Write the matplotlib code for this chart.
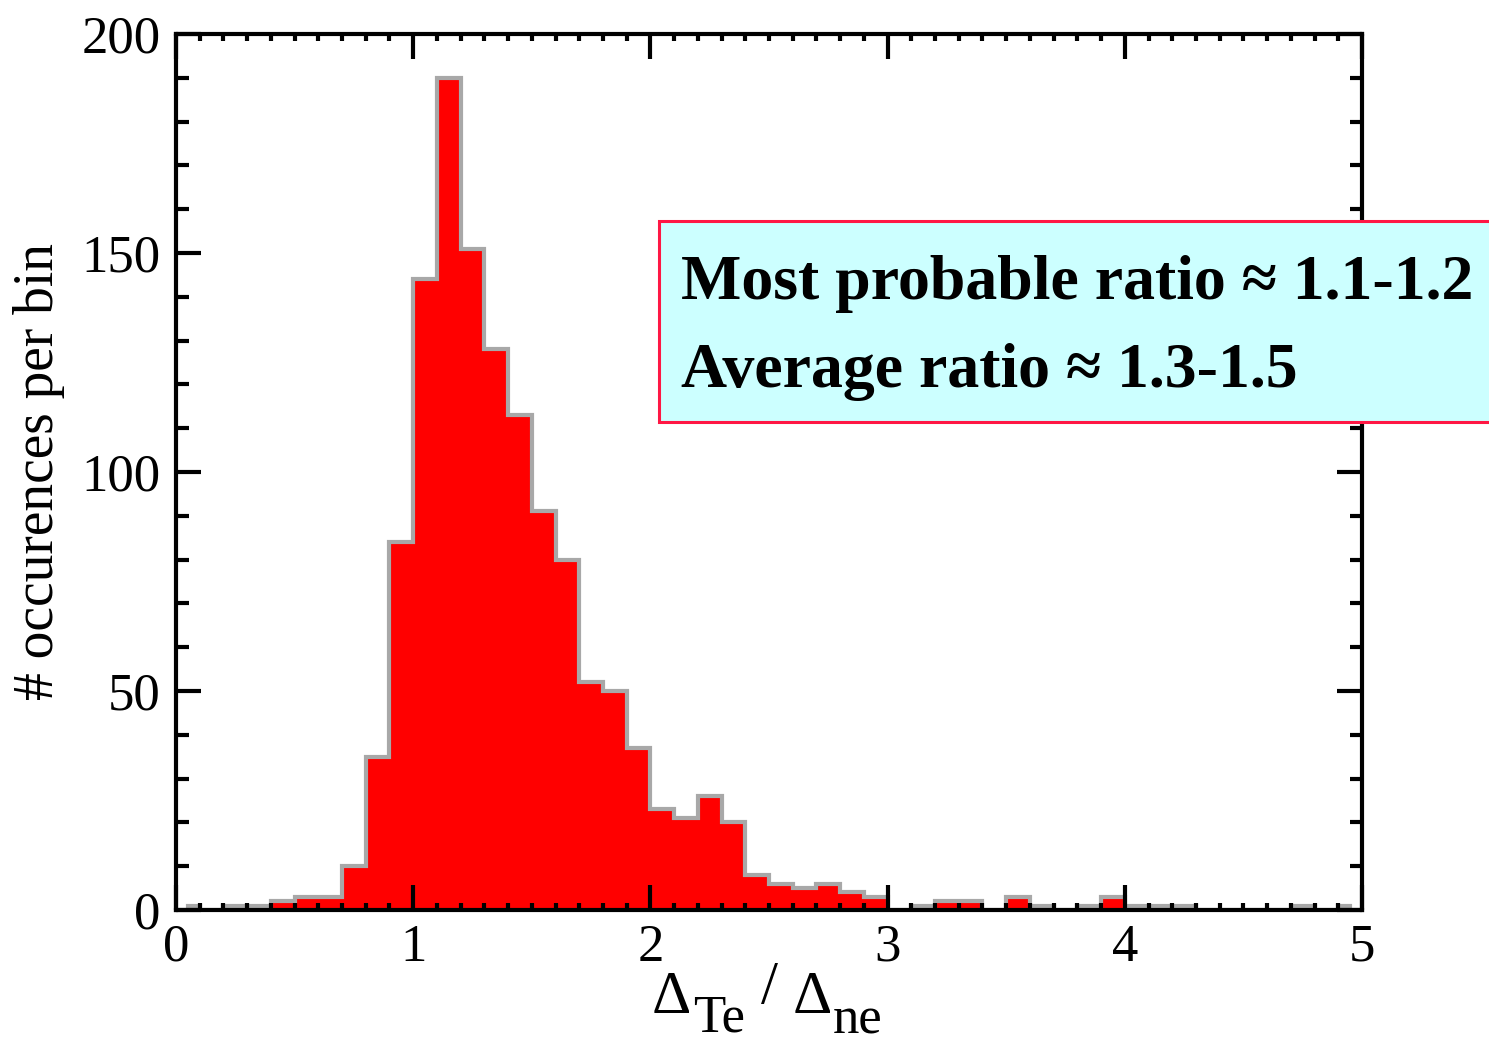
import numpy as np
import matplotlib
matplotlib.use("Agg")
import matplotlib.pyplot as plt
from matplotlib.patches import Rectangle
from matplotlib.ticker import MultipleLocator

SERIF = ["Liberation Serif", "DejaVu Serif"]
plt.rcParams.update({
    "font.family": SERIF,
    "mathtext.fontset": "custom",
    "mathtext.rm": "Liberation Serif",
})

# histogram: bin centres (step 0.1) and counts
bin_centers = np.arange(50) * 0.1 + 0.05
counts = [1, 0, 1, 1, 2, 3, 3, 10, 35, 84,
          144, 190, 151, 128, 113, 91, 80, 52, 50, 37,
          23, 21, 26, 20, 8, 6, 5, 6, 4, 3,
          0, 1, 2, 2, 0, 3, 1, 0, 1, 3,
          1, 1, 1, 0, 0, 0, 0, 1, 0, 1]
box_lines = ["Most probable ratio \u2248 1.1-1.2", "Average ratio \u2248 1.3-1.5"]

FILL = "#ff0000"
OUTLINE = "#a8a8a8"
BOX_FACE = "#ccffff"
BOX_EDGE = "#ff1744"

# IDL psym=10 style: steps halfway between centres, half-steps at the ends
mids = (bin_centers[:-1] + bin_centers[1:]) / 2
edges = np.concatenate([[bin_centers[0]], mids, [bin_centers[-1]]])

fig = plt.figure(figsize=(14.89, 10.45), dpi=100)
ax = fig.add_axes([176 / 1489, 1 - 910 / 1045, (1362 - 176) / 1489, (910 - 34) / 1045])

ax.stairs(counts, edges, fill=True, color=FILL, zorder=1)
ax.stairs(counts, edges, color=OUTLINE, linewidth=3.0, zorder=1.2)

ax.set_xlim(0, 5)
ax.set_ylim(0, 200)
ax.xaxis.set_major_locator(MultipleLocator(1))
ax.xaxis.set_minor_locator(MultipleLocator(0.1))
ax.yaxis.set_major_locator(MultipleLocator(50))
ax.yaxis.set_minor_locator(MultipleLocator(10))

ax.tick_params(which="both", direction="in", top=True, right=True, width=3, color="black")
ax.tick_params(axis="y", which="major", length=18, labelsize=38, pad=11)
ax.tick_params(axis="y", which="minor", length=9)
ax.tick_params(axis="x", which="major", length=18, labelsize=38, pad=10)
ax.tick_params(axis="x", which="minor", length=5)
for spine in ax.spines.values():
    spine.set_linewidth(3)
    spine.set_color("black")

ax.set_ylabel("# occurences per bin", fontsize=40, labelpad=12)

# x label assembled from pieces: Delta, large subscripts, slash
def ftext(x, y, s, size):
    fig.text(x / 1489, 1 - y / 1045, s, fontsize=size, ha="left", va="baseline")

ftext(652, 1013, "\u0394", 44)
ftext(693, 1031, "Te", 38)
ftext(761, 1003, "/", 44)
ftext(793, 1013, "\u0394", 44)
ftext(833, 1033, "ne", 38)

# annotation box, running off the right edge of the figure
fig.patches.append(Rectangle((659 / 1489, 1 - 422 / 1045), 0.7, (422 - 221) / 1045,
                             transform=fig.transFigure, facecolor=BOX_FACE,
                             edgecolor=BOX_EDGE, linewidth=2.2, zorder=2))
fig.text(681 / 1489, 1 - 299 / 1045, box_lines[0], fontsize=46, fontweight="bold",
         family=SERIF, va="baseline", zorder=3)
fig.text(681 / 1489, 1 - 387 / 1045, box_lines[1], fontsize=46, fontweight="bold",
         family=SERIF, va="baseline", zorder=3)

fig.savefig("out.png", dpi=100, facecolor="white")
